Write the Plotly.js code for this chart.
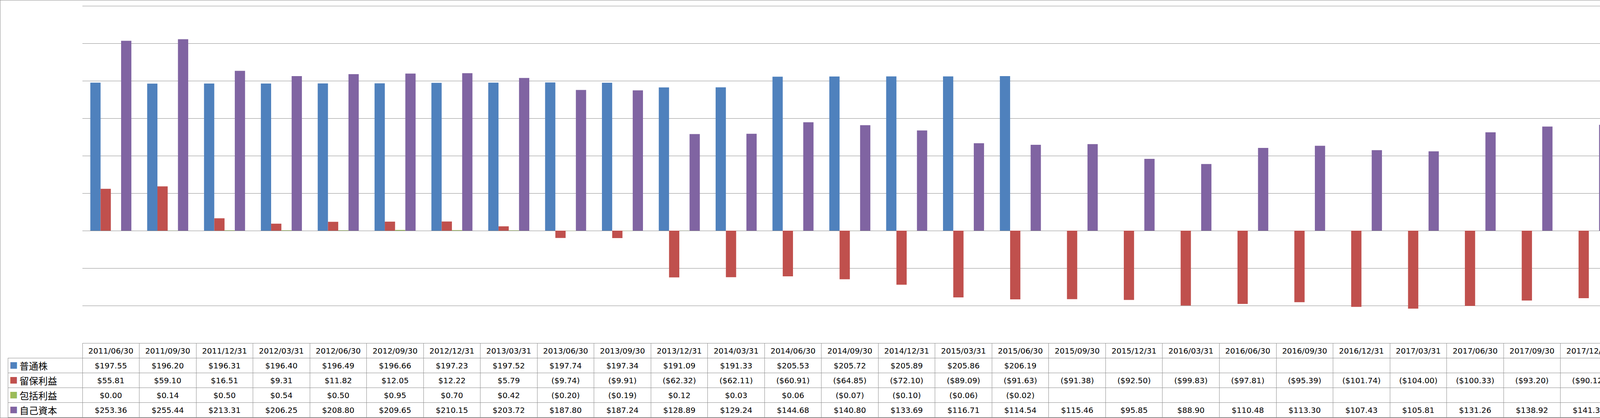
<!DOCTYPE html>
<html>
<head>
<meta charset="utf-8">
<script src="https://cdn.plot.ly/plotly-3.0.1.min.js"></script>
<style>
  html, body { margin: 0; padding: 0; background: #fff; overflow: hidden; }
  #chart { width: 6226px; height: 1071px; box-sizing: border-box; border: 1px solid #8c8c8c; overflow: hidden; background: #fff; }
</style>
</head>
<body>
<div id="chart"></div>
<script>
// ---------------- DATA ----------------
const categories = [
  '2011/06/30','2011/09/30','2011/12/31','2012/03/31','2012/06/30','2012/09/30','2012/12/31',
  '2013/03/31','2013/06/30','2013/09/30','2013/12/31','2014/03/31','2014/06/30','2014/09/30',
  '2014/12/31','2015/03/31','2015/06/30','2015/09/30','2015/12/31','2016/03/31','2016/06/30',
  '2016/09/30','2016/12/31','2017/03/31','2017/06/30','2017/09/30','2017/12/31','2018/03/31',
  '2018/06/30','2018/09/30','2018/12/31','2019/03/31','2019/06/30','2019/09/30','2019/12/31',
  '2020/03/31','2020/06/30','2020/09/30','2020/12/31','2021/03/31'
];
const commonStock = [
  197.55,196.20,196.31,196.40,196.49,196.66,197.23,197.52,197.74,197.34,191.09,191.33,205.53,
  205.72,205.89,205.86,206.19,null,null,null,null,null,null,null,null,null,null,null,null,null,
  null,null,null,null,245.16,246.73,250.67,252.49,255.26,251.62
];
const retainedEarnings = [
  55.81,59.10,16.51,9.31,11.82,12.05,12.22,5.79,-9.74,-9.91,-62.32,-62.11,-60.91,-64.85,-72.10,
  -89.09,-91.63,-91.38,-92.50,-99.83,-97.81,-95.39,-101.74,-104.00,-100.33,-93.20,-90.12,-87.63,
  -79.46,-70.54,-64.93,-63.12,-55.29,-47.33,-25.03,-21.92,-3.71,11.45,17.27,27.83
];
const comprehensiveIncome = [
  0.00,0.14,0.50,0.54,0.50,0.95,0.70,0.42,-0.20,-0.19,0.12,0.03,0.06,-0.07,-0.10,-0.06,-0.02,
  null,null,null,null,null,null,null,null,null,null,null,null,null,null,null,null,null,
  -0.21,-7.27,-7.32,-6.31,-5.26,-4.37
];
const equity = [
  253.36,255.44,213.31,206.25,208.80,209.65,210.15,203.72,187.80,187.24,128.89,129.24,144.68,
  140.80,133.69,116.71,114.54,115.46,95.85,88.90,110.48,113.30,107.43,105.81,131.26,138.92,
  141.33,144.25,153.08,162.78,164.40,163.47,171.85,180.67,219.92,217.54,239.64,257.63,267.27,275.08
];
const seriesNames = ['普通株','留保利益','包括利益','自己資本'];
const seriesColors = ['#4F81BD','#C0504D','#9BBB59','#8064A2'];
const yTickVals = [-150,-100,-50,0,50,100,150,200,250,300];
const yTickLabels = ['($150)','($100)','($50)','$0','$50','$100','$150','$200','$250','$300'];
const unitLabel = '(単位: 百万USD)';

// ---------------- BUILD ----------------
const NUM_FONT = 'DejaVu Sans, Liberation Sans, sans-serif';
const CJK_FONT = 'Noto Sans CJK JP, Noto Sans, sans-serif';
const LINE = '#8c8c8c';
const CLEAR = 'rgba(0,0,0,0)';
const seriesData = [commonStock, retainedEarnings, comprehensiveIncome, equity];

function fmt(v) {
  if (v === null || v === undefined) return '';
  const s = '$' + Math.abs(v).toFixed(2);
  return v < 0 ? '(' + s + ')' : s;
}

const traces = seriesData.map((arr, i) => ({
  type: 'bar',
  name: seriesNames[i],
  x: categories,
  y: arr,
  marker: { color: seriesColors[i], line: { width: 0 } },
  legendgroup: 'g' + i,
  hoverinfo: 'skip'
}));

// geometry (pixels inside the 1px frame)
const W = 6224, H = 1077;              // visible height is 1069; the extra rows below are clipped
const mL = 19, mR = 193, mT = 12, mB = 0;
const plotW = W - mL - mR;             // 6012
const plotH = H - mT - mB;             // 1065
const firstColW = 191, keyColW = 22;
const visBottom = 8;                   // px between visible bottom and plot bottom
const tableH = 191;
const xStart = firstColW / plotW;
const py = px => px / plotH;
const dateColW = (plotW - firstColW) / categories.length;

// 1) data-table grid
traces.push({
  type: 'table',
  domain: { x: [0, 1], y: [py(visBottom), py(visBottom + tableH)] },
  columnwidth: [firstColW].concat(categories.map(() => dateColW)),
  header: {
    values: [''].concat(categories.map(() => '')),
    height: 38,
    fill: { color: '#ffffff' },
    line: { color: [CLEAR].concat(categories.map(() => LINE)), width: 1 }
  },
  cells: {
    values: [seriesNames.map(() => '')].concat(categories.map(() => seriesNames.map(() => ''))),
    height: 38,
    fill: { color: '#ffffff' },
    line: { color: LINE, width: 1 }
  },
  hoverinfo: 'skip'
});

// 2) data-table texts
const cellValues = [seriesNames.map(() => ''), seriesNames]
  .concat(categories.map((c, j) => seriesData.map(arr => fmt(arr[j]))));
traces.push({
  type: 'table',
  domain: { x: [0, 1], y: [py(visBottom - 4), py(visBottom - 4 + tableH)] },
  columnwidth: [keyColW, firstColW - keyColW].concat(categories.map(() => dateColW)),
  header: {
    values: ['', ''].concat(categories),
    height: 38,
    align: 'center',
    fill: { color: CLEAR },
    line: { color: CLEAR, width: 0 },
    font: { family: NUM_FONT, size: 20, color: '#000000' }
  },
  cells: {
    values: cellValues,
    height: 38,
    align: ['left', 'left'].concat(categories.map(() => 'center')),
    fill: { color: CLEAR },
    line: { color: CLEAR, width: 0 },
    font: {
      family: [NUM_FONT, CJK_FONT].concat(categories.map(() => NUM_FONT)),
      size: [20, 24].concat(categories.map(() => 20)),
      color: '#000000'
    }
  },
  hoverinfo: 'skip'
});

// 3) legend keys in the table's first column
traces.push({
  type: 'table',
  domain: { x: [0, 30 / plotW], y: [py(visBottom), py(visBottom + tableH)] },
  columnwidth: [1],
  header: {
    values: [''],
    height: 38,
    fill: { color: CLEAR },
    line: { color: CLEAR, width: 0 }
  },
  cells: {
    values: [seriesNames.map(() => '■')],
    height: 38,
    align: 'center',
    fill: { color: CLEAR },
    line: { color: CLEAR, width: 0 },
    font: { family: NUM_FONT, size: 22, color: [seriesColors] }
  },
  hoverinfo: 'skip'
});

const tickText = yTickLabels.map((t, i) =>
  yTickVals[i] < 0 ? '<span style="color:#ff0000">' + t + '</span>' : t);

const layout = {
  width: W,
  height: H,
  margin: { l: mL, r: mR, t: mT, b: mB, pad: 0, autoexpand: false },
  paper_bgcolor: '#ffffff',
  plot_bgcolor: '#ffffff',
  barmode: 'group',
  bargap: 0.278,
  bargroupgap: 0,
  showlegend: true,
  legend: {
    x: 0.9984, xanchor: 'left',
    y: 0.1537, yanchor: 'top',
    traceorder: 'grouped',
    tracegroupgap: 4.3,
    font: { family: CJK_FONT, size: 24, color: '#000000' },
    bgcolor: CLEAR,
    borderwidth: 0
  },
  xaxis: {
    domain: [xStart, 1],
    type: 'category',
    showgrid: false,
    showticklabels: false,
    ticks: '',
    showline: false,
    zeroline: false,
    fixedrange: true
  },
  yaxis: {
    domain: [py(visBottom + tableH), 1],
    side: 'right',
    range: [-150, 301.04],
    tickvals: yTickVals,
    ticktext: tickText,
    ticks: '',
    ticklabelstandoff: 19,
    tickfont: { family: NUM_FONT, size: 20, color: '#000000' },
    showgrid: true,
    gridcolor: LINE,
    gridwidth: 1,
    zeroline: false,
    showline: true,
    linecolor: LINE,
    linewidth: 1,
    fixedrange: true
  },
  annotations: [{
    xref: 'paper', yref: 'paper',
    x: 1.0156, y: 0.15934,
    xanchor: 'center', yanchor: 'middle',
    text: unitLabel,
    showarrow: false,
    font: { family: CJK_FONT, size: 21, color: '#000000' }
  }]
};

Plotly.newPlot('chart', traces, layout, { displayModeBar: false, staticPlot: true });
</script>
</body>
</html>
